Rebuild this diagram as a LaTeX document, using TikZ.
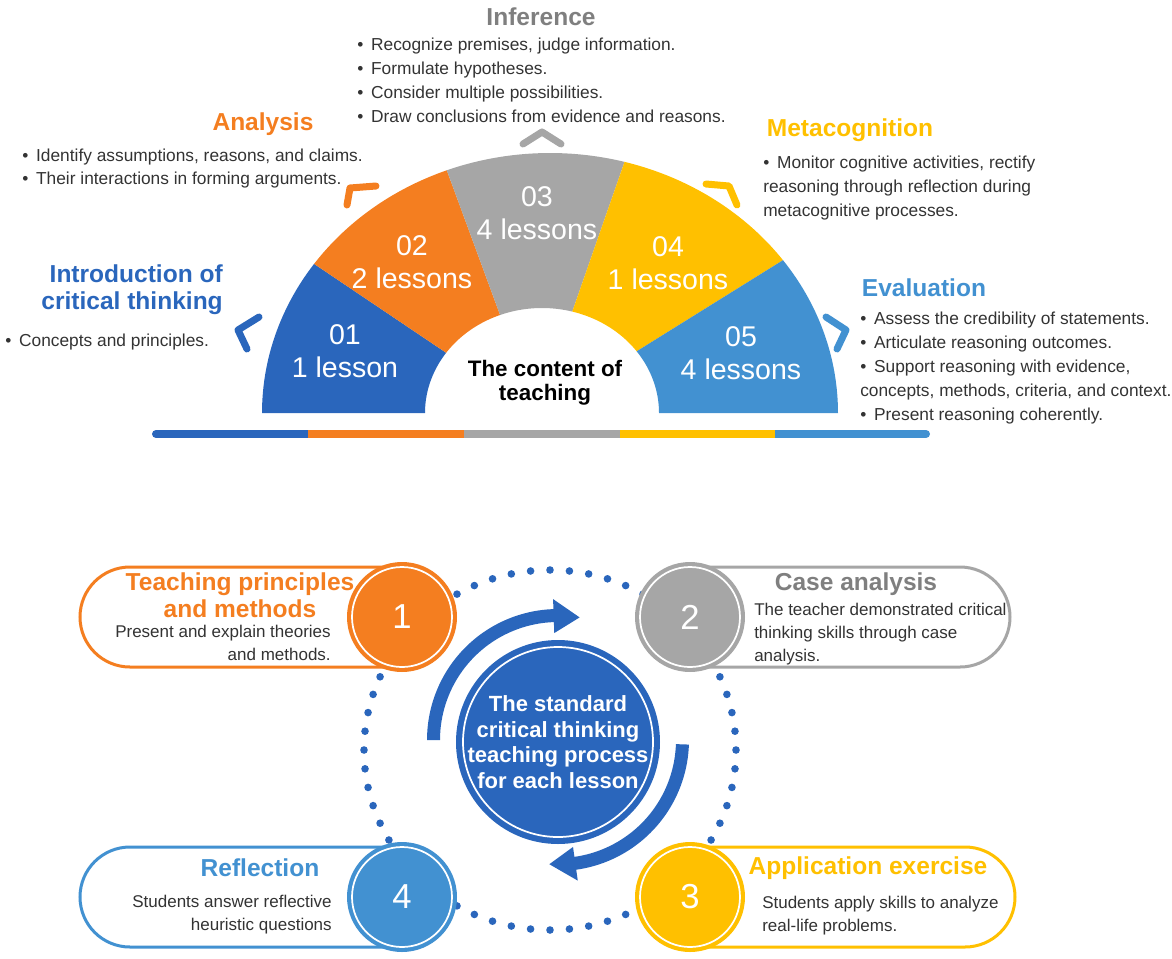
\documentclass[tikz,border=0pt]{standalone}
\usepackage{fontspec}
\setmainfont{Liberation Sans}
\definecolor{dkblue}{HTML}{2A66BC}
\definecolor{orng}{HTML}{F47E20}
\definecolor{gry}{HTML}{A6A6A6}
\definecolor{ylw}{HTML}{FFC000}
\definecolor{ltblue}{HTML}{4291D1}
\definecolor{hgray}{HTML}{7F7F7F}
\definecolor{txt}{HTML}{333333}
\newcommand\mybul{•\hskip 0.45em\relax}
\tikzset{
  body/.style={font=\fontsize{13}{18}\selectfont, text=txt, inner sep=0pt, align=left},
  pbody/.style={font=\fontsize{12.75}{17.25}\selectfont, text=txt, inner sep=0pt},
  headl/.style={font=\bfseries\fontsize{18.4}{20.25}\selectfont, inner sep=0pt, text height=13.4pt, text depth=3.9pt},
  headm/.style={font=\bfseries\fontsize{18.4}{20.25}\selectfont, inner sep=0pt},
  seg/.style={font=\fontsize{21.4}{25}\selectfont, text=white, align=center, inner sep=0pt},
  chev/.style={line width=5.25pt, line cap=round, line join=round},
  pill/.style={line width=2.25pt, fill=white},
  numc/.style={circle, fill=#1, minimum size=82.5pt, inner sep=0pt, text=white,
    font=\fontsize{26}{26}\selectfont,
    path picture={\draw[white, line width=1.3pt] (path picture bounding box.center) circle[radius=37.5pt];}},
  bar/.style={line width=6pt}
}
\begin{document}
\begin{tikzpicture}[x=0.75pt,y=-0.75pt]
\useasboundingbox (0,0) rectangle (1172,958);

% ---------------- top: semi-ellipse ----------------
\fill[dkblue] plot[domain=180:145,samples=40] ({550+288*cos(\x)},{413-260*sin(\x)}) -- plot[domain=145:180,samples=40] ({542+117*cos(\x)},{413-105*sin(\x)}) -- cycle;
\fill[orng] plot[domain=145:111,samples=40] ({550+288*cos(\x)},{413-260*sin(\x)}) -- plot[domain=111:145,samples=40] ({542+117*cos(\x)},{413-105*sin(\x)}) -- cycle;
\fill[gry] plot[domain=111:75,samples=40] ({550+288*cos(\x)},{413-260*sin(\x)}) -- plot[domain=75:111,samples=40] ({542+117*cos(\x)},{413-105*sin(\x)}) -- cycle;
\fill[ylw] plot[domain=75:36,samples=40] ({550+288*cos(\x)},{413-260*sin(\x)}) -- plot[domain=36:75,samples=40] ({542+117*cos(\x)},{413-105*sin(\x)}) -- cycle;
\fill[ltblue] plot[domain=36:0,samples=40] ({550+288*cos(\x)},{413-260*sin(\x)}) -- plot[domain=0:36,samples=40] ({542+117*cos(\x)},{413-105*sin(\x)}) -- cycle;

\node[seg] (s1) at (345,351.5) {01\\1 lesson};
\node[seg] (s2) at (412,262) {02\\2 lessons};
\node[seg] (s3) at (537,213) {03\\4 lessons};
\node[seg] (s4) at (668,263) {04\\1 lessons};
\node[seg] (s5) at (741,353) {05\\4 lessons};
\node[font=\bfseries\fontsize{16.8}{18.3}\selectfont, align=center, inner sep=0pt] (content) at (545,382.5) {The content of\\teaching};

% bottom bar
\draw[bar, dkblue, line cap=round] (156,434) -- (308,434);
\draw[bar, ltblue, line cap=round] (775,434) -- (926,434);
\draw[bar, orng] (308,434) -- (464,434);
\draw[bar, gry] (464,434) -- (620,434);
\draw[bar, ylw] (620,434) -- (775,434);

% chevrons
\draw[chev, dkblue] (259,317) -- (238,330) -- (247,349);
\draw[chev, orng] (376,186) -- (350,188) -- (347,205);
\draw[chev, gry] (523,144) -- (542,132) -- (561,144);
\draw[chev, ylw] (706,184) -- (729,186) -- (737,205);
\draw[chev, ltblue] (826,317) -- (846,330) -- (837,349);

% headings and texts (top)
\node[headl, text=hgray] (hinf) at (541,19.5) {Inference};
\node[body, anchor=north west] (tinf) at (357,38) {\mybul Recognize premises, judge information.\\\mybul Formulate hypotheses.\\\mybul Consider multiple possibilities.\\\mybul Draw conclusions from evidence and reasons.};
\node[headl, text=orng] (hana) at (263,124) {Analysis};
\node[body, anchor=north west, font=\fontsize{13}{17.25}\selectfont] (tana) at (22,149) {\mybul Identify assumptions, reasons, and claims.\\\mybul Their interactions in forming arguments.};
\node[headm, text=dkblue, align=right, anchor=north east] (hint) at (223,264) {Introduction of\\critical thinking};
\node[body, anchor=north west] (tint) at (5,334) {\mybul Concepts and principles.};
\node[headl, text=ylw] (hmet) at (850,130) {Metacognition};
\node[body, anchor=north west] (tmet) at (763,156) {\mybul Monitor cognitive activities, rectify\\reasoning through reflection during\\metacognitive processes.};
\node[headl, text=ltblue] (heva) at (924,290.5) {Evaluation};
\node[body, anchor=north west] (teva) at (860,312) {\mybul Assess the credibility of statements.\\\mybul Articulate reasoning outcomes.\\\mybul Support reasoning with evidence,\\concepts, methods, criteria, and context.\\\mybul Present reasoning coherently.};

% ---------------- bottom: process ----------------
\foreach \a in {0,6,...,354}
  \fill[dkblue] ({550+186*cos(\a)},{750+180*sin(\a)}) circle (3.8);

\filldraw[pill, draw=orng] (415,567) -- (130,567) arc[start angle=270, end angle=90, radius=50] -- (415,667) -- cycle;
\filldraw[pill, draw=gry] (675,567) -- (960,567) arc[start angle=-90, end angle=90, radius=50] -- (675,667) -- cycle;
\filldraw[pill, draw=ylw] (675,847) -- (965,847) arc[start angle=-90, end angle=90, radius=50] -- (675,947) -- cycle;
\filldraw[pill, draw=ltblue] (417,847) -- (130,847) arc[start angle=270, end angle=90, radius=50] -- (417,947) -- cycle;

\node[numc=orng] (n1) at (402,617) {1};
\node[numc=gry] (n2) at (690,617) {2};
\node[numc=ylw] (n3) at (690,897) {3};
\node[numc=ltblue] (n4) at (402,897) {4};

\node[headm, text=orng, align=center, anchor=north] (hp1) at (240,572) {Teaching principles\\and methods};
\node[pbody, align=right, anchor=north east] (tp1) at (331,625) {Present and explain theories\\and methods.};
\node[headl, text=hgray] (hp2) at (856,584) {Case analysis};
\node[pbody, align=left, anchor=north west] (tp2) at (754,603) {The teacher demonstrated critical\\thinking skills through case\\analysis.};
\node[headl, text=ylw] (hp3) at (868,868) {Application exercise};
\node[pbody, align=left, anchor=north west] (tp3) at (762,896) {Students apply skills to analyze\\real-life problems.};
\node[headl, text=ltblue] (hp4) at (260,870) {Reflection};
\node[pbody, align=right, anchor=north east] (tp4) at (332,895) {Students answer reflective\\heuristic questions};

% center circle
\node[circle, fill=dkblue, minimum size=153pt, inner sep=0pt, text=white, align=center,
  font=\bfseries\fontsize{16.5}{19.3}\selectfont,
  path picture={\draw[white, line width=1.3pt] (path picture bounding box.center) circle[radius=71.25pt];}]
  (core) at (558,742) {The standard\\critical thinking\\teaching process\\for each lesson};

% circular arrows
\fill[dkblue] plot[domain=180:92,samples=40] ({558+131*cos(\x)},{740-131*sin(\x)})
  -- ({558+141*cos(92)},{740-141*sin(92)}) -- ({558+124.5*cos(80)},{740-124.5*sin(80)})
  -- ({558+107*cos(92)},{740-107*sin(92)})
  -- plot[domain=92:180,samples=40] ({558+118*cos(\x)},{740-118*sin(\x)}) -- cycle;
\fill[dkblue] plot[domain=-2:-82,samples=40] ({558+131*cos(\x)},{740-131*sin(\x)})
  -- ({558+142*cos(-82)},{740-142*sin(-82)}) -- ({558+124.5*cos(-94)},{740-124.5*sin(-94)})
  -- ({558+108*cos(-82)},{740-108*sin(-82)})
  -- plot[domain=-82:-2,samples=40] ({558+118*cos(\x)},{740-118*sin(\x)}) -- cycle;
\end{tikzpicture}
\end{document}
